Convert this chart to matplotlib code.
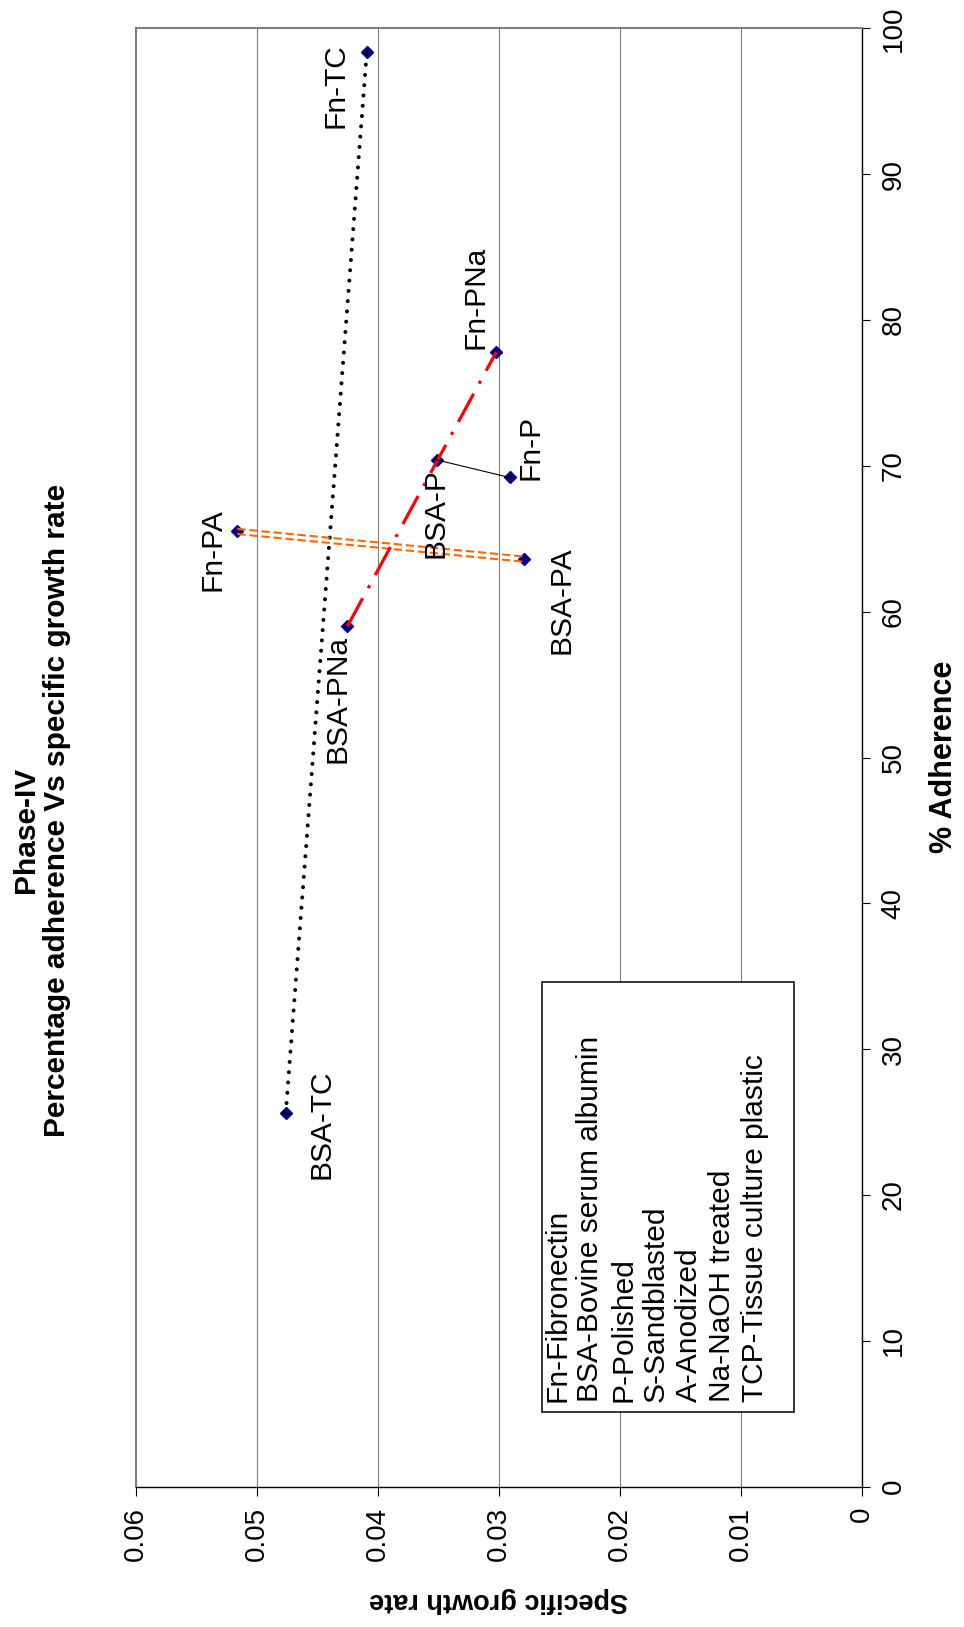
import matplotlib
matplotlib.use("Agg")
import matplotlib.pyplot as plt
from matplotlib.patches import Rectangle
from matplotlib.transforms import offset_copy

plt.rcParams['font.family'] = ['Liberation Sans', 'DejaVu Sans']

# Coating / surface combinations: % adherence and specific growth rate
samples = ["Fn-TC", "BSA-TC", "Fn-PA", "BSA-PA", "BSA-PNa", "Fn-PNa", "BSA-P", "Fn-P"]
adherence = [98.4, 25.6, 65.5, 63.6, 59.0, 77.8, 70.4, 69.2]
growth_rate = [0.0409, 0.0476, 0.0516, 0.0279, 0.0425, 0.0302, 0.0351, 0.0291]

growth_ticks = [0, 0.01, 0.02, 0.03, 0.04, 0.05, 0.06]
growth_tick_labels = ["0", "0.01", "0.02", "0.03", "0.04", "0.05", "0.06"]
adherence_ticks = [0, 10, 20, 30, 40, 50, 60, 70, 80, 90, 100]
adherence_tick_labels = [str(t) for t in adherence_ticks]

legend_lines = ["Fn-Fibronectin", "BSA-Bovine serum albumin", "P-Polished",
                "S-Sandblasted", "A-Anodized", "Na-NaOH treated",
                "TCP-Tissue culture plastic"]

# Pairs of samples joined by a line
pairs = [("BSA-TC", "Fn-TC"), ("Fn-PA", "BSA-PA"),
         ("BSA-PNa", "Fn-PNa"), ("BSA-P", "Fn-P")]

# --- styling ---------------------------------------------------------------
W, H = 964, 1627
pair_styles = {
    ("BSA-TC", "Fn-TC"): dict(color="black", lw=2.9, ls=(0, (0.01, 2.55)),
                              dash_capstyle="round"),
    ("BSA-PNa", "Fn-PNa"): dict(color="#FF0000", lw=2.3, ls=(0, (10, 3.6, 1, 3.6))),
    ("BSA-P", "Fn-P"): dict(color="black", lw=0.8, ls="-"),
}
label_offsets = {  # pixels (right, up) from the marker
    "Fn-TC": (-31, -34), "BSA-TC": (36, -11), "Fn-PA": (-25, -18),
    "BSA-PA": (37, -41), "BSA-PNa": (-10, -73), "Fn-PNa": (-21, 55),
    "BSA-P": (-1, -53), "Fn-P": (21, 30),
}

fig = plt.figure(figsize=(W / 100, H / 100), dpi=100)
fig.patch.set_facecolor("white")
ax = fig.add_axes([135.7 / W, 1 - 1486.7 / H, 726 / W, 1458.4 / H])
ax.set_xlim(0.06, 0)
ax.set_ylim(0, 100)

# frame
for side in ("top", "left"):
    ax.spines[side].set_color("#808080")
    ax.spines[side].set_linewidth(1.5)
for side in ("right", "bottom"):
    ax.spines[side].set_color("black")
    ax.spines[side].set_linewidth(1.0)

ax.grid(axis="x", color="#808080", lw=0.8)
ax.grid(axis="y", visible=False)
ax.set_axisbelow(True)

# axes ticks
ax.set_xticks(growth_ticks)
ax.set_xticklabels(growth_tick_labels, rotation=90)
ax.tick_params(axis="x", direction="out", length=6.5, width=0.8, pad=8,
               labelsize=20, color="black")
ax.yaxis.tick_right()
ax.set_yticks(adherence_ticks)
ax.set_yticklabels(adherence_tick_labels, rotation=90)
for lab in ax.get_yticklabels():
    lab.set_va("center")
    lab.set_ha("left")
ax.tick_params(axis="y", direction="out", length=6, width=0.8, pad=7.5,
               labelsize=20, color="black")

# markers
ax.plot(growth_rate, adherence, ls="none", marker="D", ms=6.6,
        color="#000080", zorder=3)

idx = {s: i for i, s in enumerate(samples)}
for a, b in pairs:
    gx = [growth_rate[idx[a]], growth_rate[idx[b]]]
    ay = [adherence[idx[a]], adherence[idx[b]]]
    if (a, b) == ("Fn-PA", "BSA-PA"):
        for dy in (-2.6, 2.6):
            tr = offset_copy(ax.transData, fig=fig, x=0, y=dy, units="dots")
            ax.plot(gx, ay, color="#FF6600", lw=1.5, ls=(0, (4, 1.8)),
                    transform=tr, zorder=4)
    else:
        ax.plot(gx, ay, zorder=4, **pair_styles[(a, b)])

# point labels
for s, g, a in zip(samples, growth_rate, adherence):
    dx, dy = label_offsets[s]
    ax.annotate(s, xy=(g, a), xytext=(dx, dy), textcoords="offset pixels",
                rotation=90, ha="center", va="center", fontsize=21.5,
                zorder=5)

# key box
fig.add_artist(Rectangle((541.7 / W, 1 - 1411.7 / H), 252 / W, 430 / H,
                         transform=fig.transFigure, facecolor="white",
                         edgecolor="black", lw=1.1, zorder=2))
for i, line in enumerate(legend_lines):
    fig.text((557 + 33 * i) / W, 1 - 1402 / H, line, rotation=90,
             ha="center", va="bottom", fontsize=21.5, zorder=3)

# titles and axis labels
fig.text(26 / W, 1 - 830 / H, "Phase-IV", rotation=90, ha="center",
         va="center", fontsize=21.5, fontweight="bold")
fig.text(57 / W, 1 - 810 / H, "Percentage adherence Vs specific growth rate",
         rotation=90, ha="center", va="center", fontsize=21.5,
         fontweight="bold")
fig.text(944 / W, 1 - 757 / H, "% Adherence", rotation=90, ha="center",
         va="center", fontsize=22, fontweight="bold")
fig.text(498.7 / W, 1 - 1600 / H, "Specific growth rate", rotation=180,
         ha="center", va="center", fontsize=19.5, fontweight="bold")

fig.savefig("out.png", dpi=100, facecolor="white")
